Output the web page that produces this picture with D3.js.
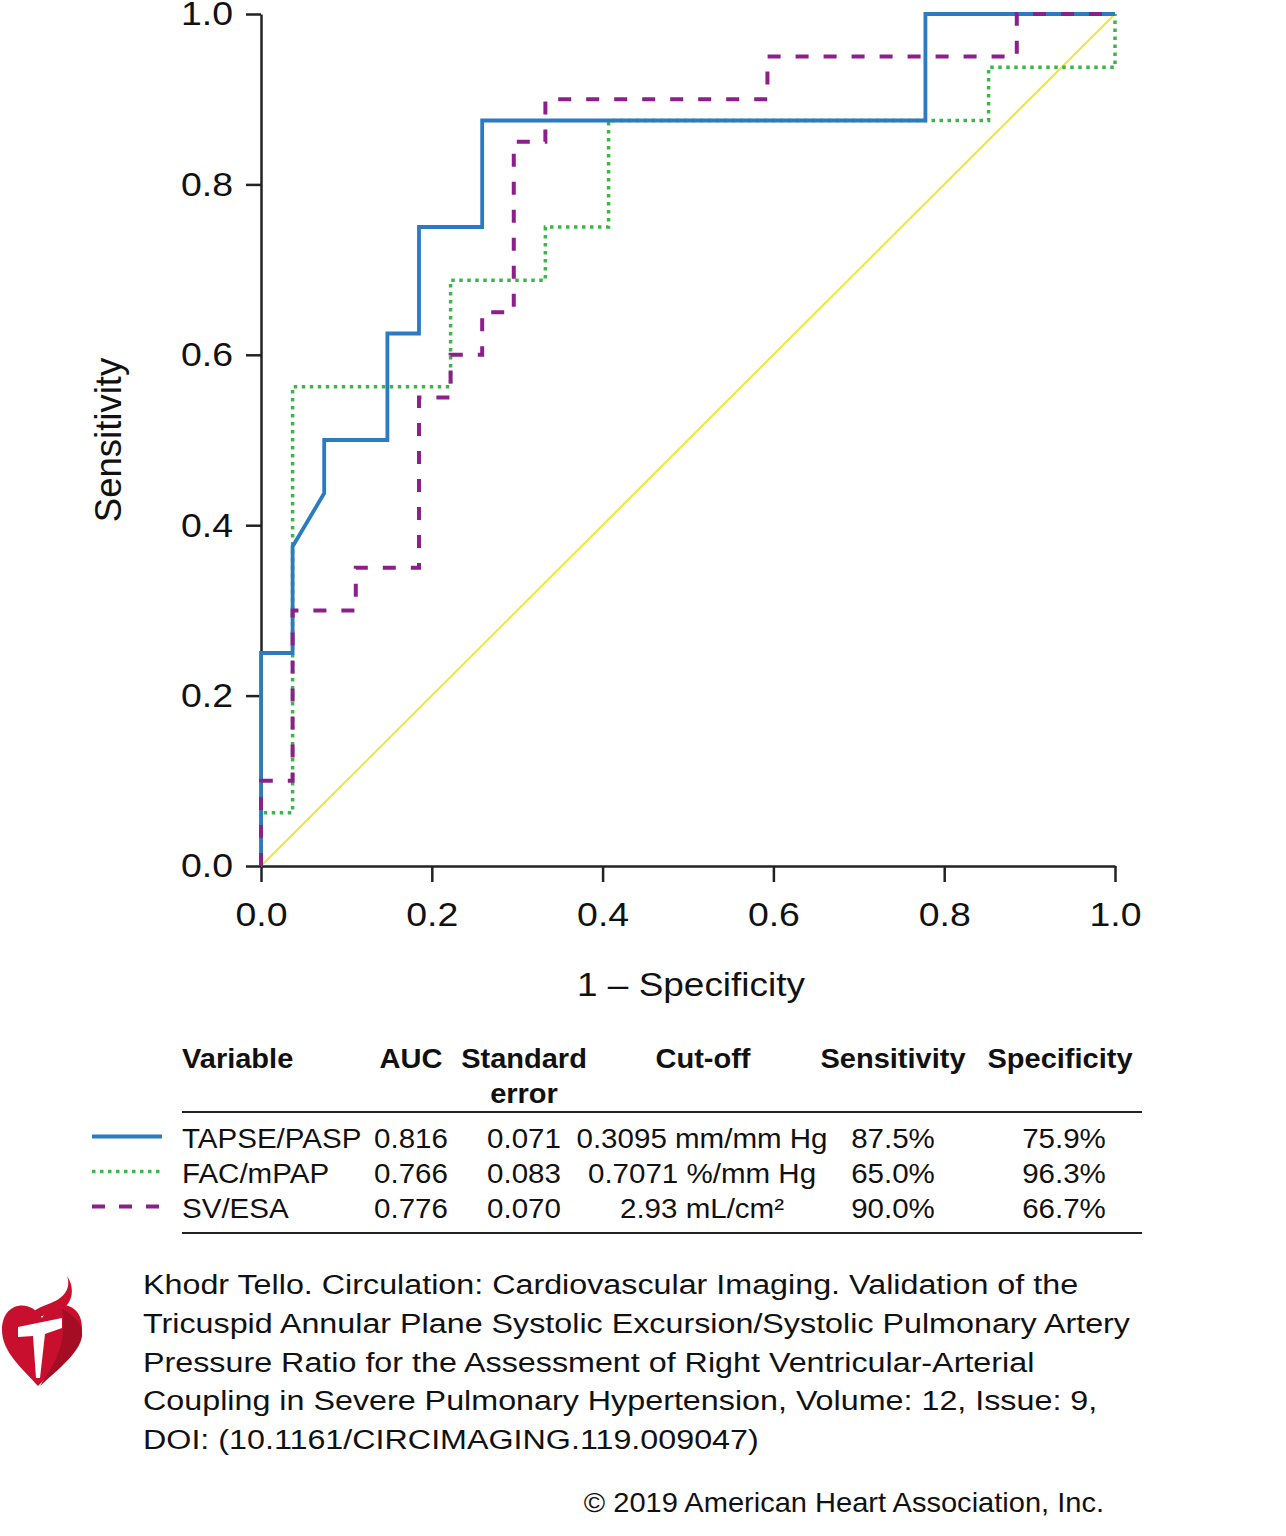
<!DOCTYPE html>
<html>
<head>
<meta charset="utf-8">
<script src="https://cdn.jsdelivr.net/npm/d3@7"></script>
<style>
  html, body { margin: 0; padding: 0; background: #fff; }
  svg { display: block; font-family: "Liberation Sans", Arial, sans-serif; }
</style>
</head>
<body>
<svg id="chart" width="1286" height="1536"></svg>
<script>
// ---------- data ----------
const seriesNames = ["TAPSE/PASP", "FAC/mPAP", "SV/ESA"];
const tapseFpr = [0, 0, 0.037, 0.037, 0.074, 0.074, 0.148, 0.148, 0.185, 0.185, 0.259, 0.259, 0.778, 0.778, 1.0];
const tapseTpr = [0, 0.25, 0.25, 0.375, 0.4375, 0.5, 0.5, 0.625, 0.625, 0.75, 0.75, 0.875, 0.875, 1.0, 1.0];
const facFpr = [0, 0, 0.037, 0.037, 0.222, 0.222, 0.333, 0.333, 0.407, 0.407, 0.852, 0.852, 1.0, 1.0];
const facTpr = [0, 0.0625, 0.0625, 0.5625, 0.5625, 0.6875, 0.6875, 0.75, 0.75, 0.875, 0.875, 0.9375, 0.9375, 1.0];
const svFpr = [0, 0, 0.037, 0.037, 0.111, 0.111, 0.185, 0.185, 0.222, 0.222, 0.259, 0.259, 0.296, 0.296, 0.333, 0.333, 0.593, 0.593, 0.885, 0.885, 1.0];
const svTpr = [0, 0.1, 0.1, 0.3, 0.3, 0.35, 0.35, 0.55, 0.55, 0.6, 0.6, 0.65, 0.65, 0.85, 0.85, 0.9, 0.9, 0.95, 0.95, 1.0, 1.0];
const refFpr = [0, 1];
const refTpr = [0, 1];
const tickValues = [0, 0.2, 0.4, 0.6, 0.8, 1.0];

const tableHeaders = ["Variable", "AUC", "Standard", "Cut-off", "Sensitivity", "Specificity"];
const aucValues = ["0.816", "0.766", "0.776"];
const seValues = ["0.071", "0.083", "0.070"];
const cutoffValues = ["0.3095 mm/mm Hg", "0.7071 %/mm Hg", "2.93 mL/cm²"];
const sensValues = ["87.5%", "65.0%", "90.0%"];
const specValues = ["75.9%", "96.3%", "66.7%"];

const captionLines = [
  "Khodr Tello. Circulation: Cardiovascular Imaging. Validation of the",
  "Tricuspid Annular Plane Systolic Excursion/Systolic Pulmonary Artery",
  "Pressure Ratio for the Assessment of Right Ventricular-Arterial",
  "Coupling in Severe Pulmonary Hypertension, Volume: 12, Issue: 9,",
  "DOI: (10.1161/CIRCIMAGING.119.009047)"
];
const copyright = "© 2019 American Heart Association, Inc.";

// ---------- styles ----------
const styles = [
  { color: "#2a7bc2", width: 3.8, dash: null },
  { color: "#3db54a", width: 3.5, dash: "3.5,4.5" },
  { color: "#8c1f8a", width: 4, dash: "13,15" }
];

const svg = d3.select("#chart");
const x = d3.scaleLinear().domain([0, 1]).range([261, 1115]);
const y = d3.scaleLinear().domain([0, 1]).range([866, 14]);

// helper: text stretched horizontally around its anchor
function addText(parent, tx, ty, str, sx, anchor) {
  return parent.append("text")
    .attr("transform", `translate(${tx},${ty}) scale(${sx},1)`)
    .attr("text-anchor", anchor || "start")
    .text(str);
}

// axes
const yAxis = d3.axisLeft(y).tickValues(tickValues).tickFormat(d3.format(".1f"))
  .tickSize(15).tickSizeOuter(0).tickPadding(13);
const xAxis = d3.axisBottom(x).tickValues(tickValues).tickFormat(d3.format(".1f"))
  .tickSize(16).tickSizeOuter(0).tickPadding(20);

const gy = svg.append("g").attr("transform", "translate(261,0)").call(yAxis);
const gx = svg.append("g").attr("transform", "translate(0,866)").call(xAxis);
[gx, gy].forEach(g => {
  g.select(".domain").attr("stroke", "#222").attr("stroke-width", 2.5);
  g.selectAll(".tick line").attr("stroke", "#222").attr("stroke-width", 2.5);
  g.selectAll(".tick text").attr("fill", "#111").style("font-size", "34px")
    .style("font-family", "'Liberation Sans', Arial, sans-serif");
});
gy.selectAll(".tick text").each(function () {
  const t = d3.select(this);
  const tx = +t.attr("x");
  t.attr("x", 0).attr("transform", `translate(${tx},0) scale(1.1,1)`);
});
gx.selectAll(".tick text").attr("dy", "0.71em").each(function () {
  const t = d3.select(this);
  const ty = +t.attr("y");
  t.attr("y", 0).attr("transform", `translate(0,${ty}) scale(1.1,1)`);
});

// axis titles
addText(svg, 691, 996, "1 – Specificity", 1.12, "middle")
  .style("font-size", "33px").attr("fill", "#111");
svg.append("text").attr("transform", "translate(121,440) rotate(-90)")
  .attr("text-anchor", "middle").style("font-size", "36.5px").attr("fill", "#111").text("Sensitivity");

// reference diagonal
const line = d3.line().x(d => x(d[0])).y(d => y(d[1]));
svg.append("path").datum(d3.zip(refFpr, refTpr)).attr("d", line)
  .attr("fill", "none").attr("stroke", "#f0e63a").attr("stroke-width", 2);

// curves (green under blue, purple on top)
const curves = [
  { data: d3.zip(facFpr, facTpr), s: styles[1] },
  { data: d3.zip(tapseFpr, tapseTpr), s: styles[0] },
  { data: d3.zip(svFpr, svTpr), s: styles[2] }
];
curves.forEach(c => {
  svg.append("path").datum(c.data).attr("d", line)
    .attr("fill", "none").attr("stroke", c.s.color).attr("stroke-width", c.s.width)
    .attr("stroke-dasharray", c.s.dash).attr("stroke-linejoin", "miter");
});

// ---------- table ----------
const head = svg.append("g").style("font-weight", "bold").style("font-size", "27px").attr("fill", "#111");
const hs = 1.075;
addText(head, 182, 1068, tableHeaders[0], hs);
addText(head, 411, 1068, tableHeaders[1], hs, "middle");
addText(head, 524, 1068, tableHeaders[2], hs, "middle");
addText(head, 524, 1103, "error", hs, "middle");
addText(head, 703, 1068, tableHeaders[3], hs, "middle");
addText(head, 893, 1068, tableHeaders[4], hs, "middle");
addText(head, 1060, 1068, tableHeaders[5], hs, "middle");

svg.append("line").attr("x1", 182).attr("x2", 1142).attr("y1", 1112).attr("y2", 1112)
  .attr("stroke", "#222").attr("stroke-width", 2.2);
svg.append("line").attr("x1", 182).attr("x2", 1142).attr("y1", 1233).attr("y2", 1233)
  .attr("stroke", "#222").attr("stroke-width", 2.2);

const rowY = d3.scaleBand().domain(d3.range(3)).range([1121, 1226]);
const body = svg.append("g").style("font-size", "28px").attr("fill", "#111");
const bs = 1.055;
seriesNames.forEach((name, i) => {
  const by = rowY(i) + 27;
  const cy = rowY(i) + rowY.bandwidth() / 2 - 2;
  svg.append("line").attr("x1", 92).attr("x2", 162).attr("y1", cy).attr("y2", cy)
    .attr("stroke", styles[i].color).attr("stroke-width", styles[i].width)
    .attr("stroke-dasharray", i === 2 ? "13,14" : styles[i].dash);
  addText(body, 182, by, name, bs);
  addText(body, 411, by, aucValues[i], bs, "middle");
  addText(body, 524, by, seValues[i], bs, "middle");
  addText(body, 702, by, cutoffValues[i], bs, "middle");
  addText(body, 893, by, sensValues[i], bs, "middle");
  addText(body, 1064, by, specValues[i], bs, "middle");
});

// ---------- caption ----------
const cap = svg.append("g").style("font-size", "28px").attr("fill", "#111");
captionLines.forEach((t, i) => {
  addText(cap, 143, 1294 + i * 38.8, t, 1.153);
});
addText(svg, 1104, 1512, copyright, 1.076, "end")
  .style("font-size", "27px").attr("fill", "#111");

// ---------- logo ----------
const logo = svg.append("g");
logo.append("path")
  .attr("d", "M42,1318 C30,1298 2,1302 2,1330 C2,1352 22,1368 38,1386 C55,1368 82,1352 82,1328 C82,1302 55,1298 42,1318 Z")
  .attr("fill", "#c8102e");
logo.append("path")
  .attr("d", "M62,1308 C72,1316 84,1322 82,1336 C80,1352 60,1368 40,1386 C52,1366 68,1348 62,1308 Z")
  .attr("fill", "#a50d25");
logo.append("path")
  .attr("d", "M18,1327 L62,1318 L62,1328 L45,1334 L40,1378 L36,1378 L33,1336 L18,1337 Z")
  .attr("fill", "#fff");
logo.append("path")
  .attr("d", "M28,1322 C30,1306 50,1306 60,1298 C68,1292 70,1284 67,1276 C74,1286 74,1300 64,1308 C54,1315 40,1314 28,1322 Z")
  .attr("fill", "#c8102e");
</script>
</body>
</html>
